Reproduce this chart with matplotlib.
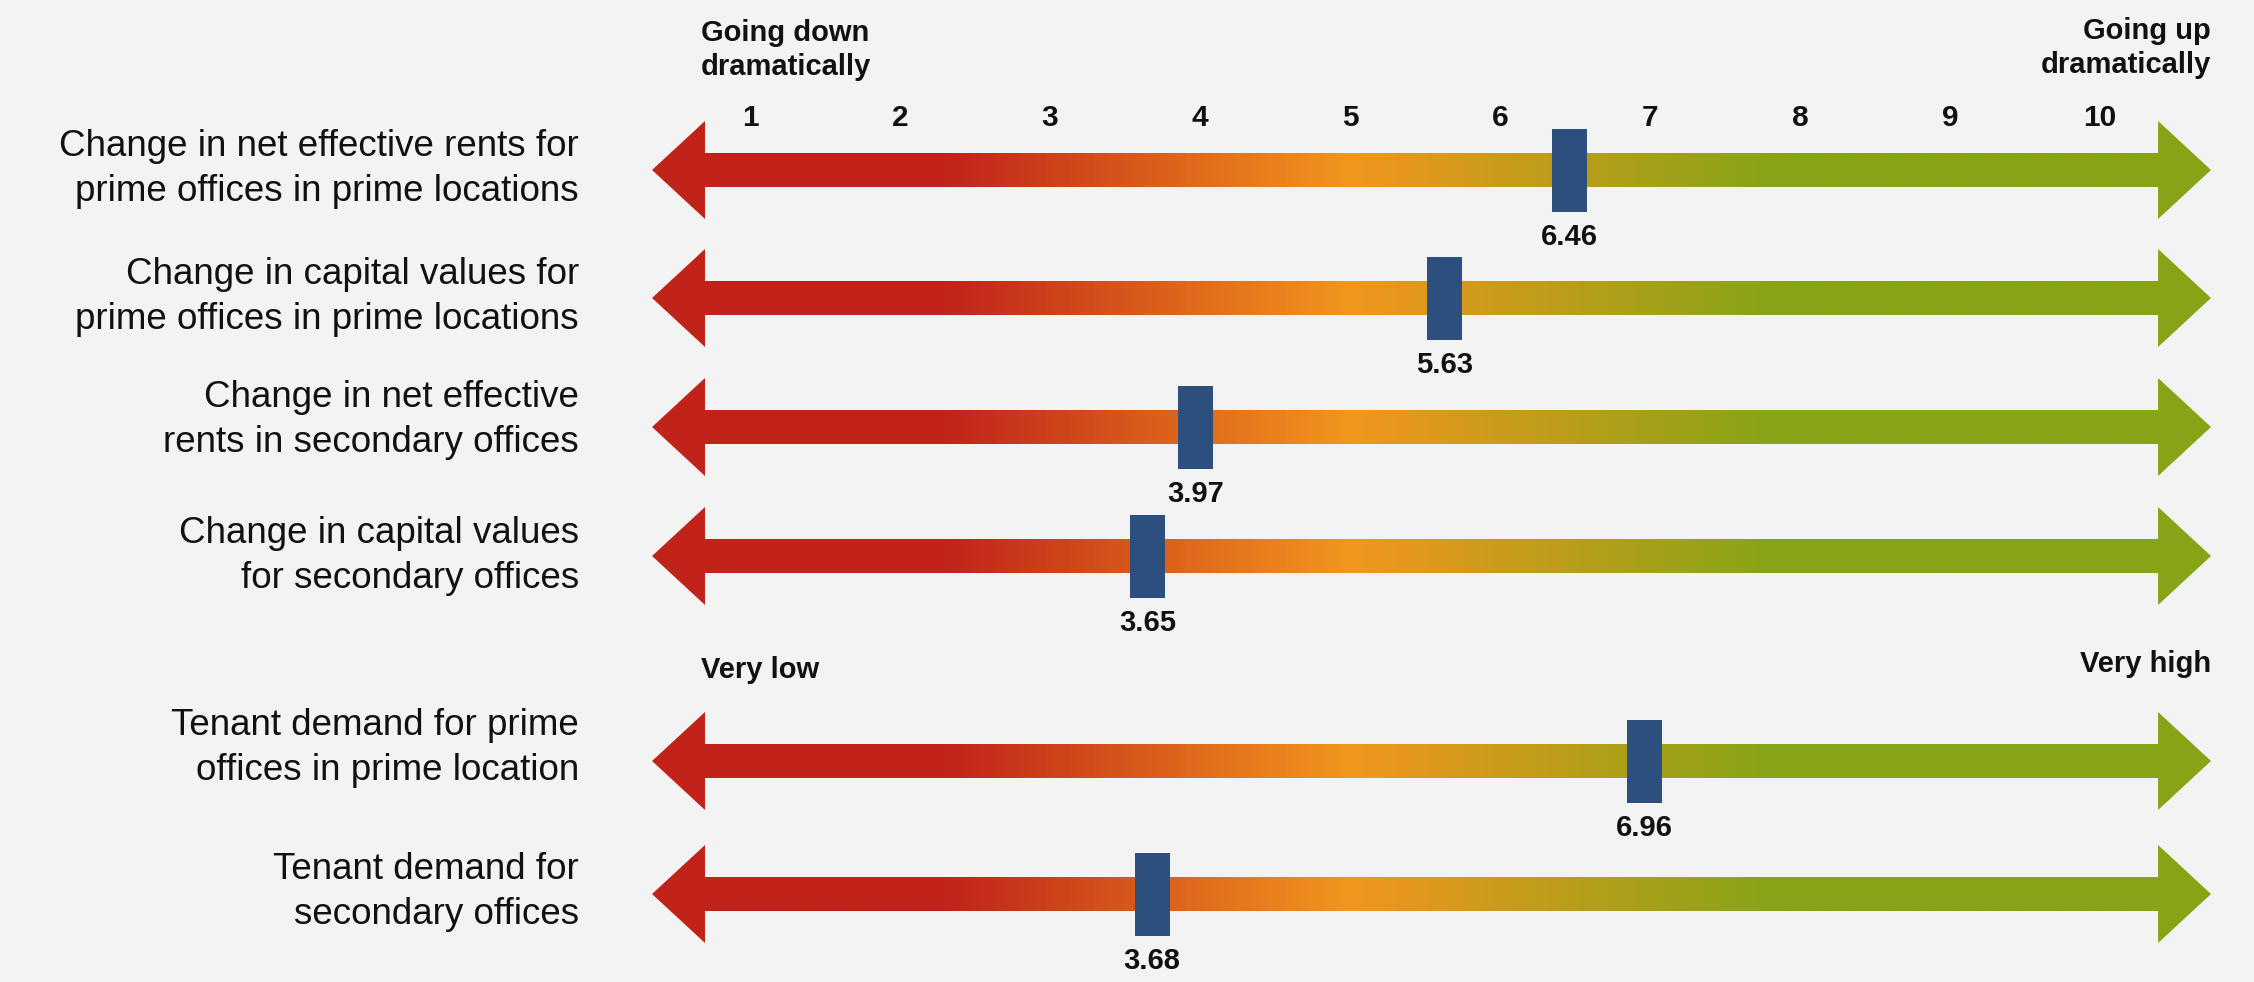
import numpy as np
import matplotlib
matplotlib.use("Agg")
import matplotlib.pyplot as plt
from matplotlib.colors import LinearSegmentedColormap
from matplotlib.patches import Polygon

# ---------------- data ----------------
categories = [
    "Change in net effective rents for\nprime offices in prime locations",
    "Change in capital values for\nprime offices in prime locations",
    "Change in net effective\nrents in secondary offices",
    "Change in capital values\nfor secondary offices",
    "Tenant demand for prime\noffices in prime location",
    "Tenant demand for\nsecondary offices",
]
scores = [6.46, 5.63, 3.97, 3.65, 6.96, 3.68]
scale_ticks = [1, 2, 3, 4, 5, 6, 7, 8, 9, 10]
top_left_label = "Going down\ndramatically"
top_right_label = "Going up\ndramatically"
demand_left_label = "Very low"
demand_right_label = "Very high"

# ---------------- layout (pixels on a 2254x982 canvas) ----------------
W, H = 2254, 982
ROW_Y = [170, 298, 427, 556, 761, 894]
LABEL_Y = [169, 297, 420, 556, 748, 892]
BG = "#f3f3f3"
MARKER_C = "#2c4f7e"
TXT = "#111111"
FONT = "Liberation Sans"

fig = plt.figure(figsize=(W / 100, H / 100), dpi=100, facecolor=BG)
ax = fig.add_axes([0, 0, 1, 1])
ax.set_facecolor(BG)
# value v sits at pixel 750 + (v-1)*150
x_left = 1 - 750 / 150
x_right = 1 + (W - 750) / 150
ax.axis("off")

px = 1 / 150.0  # one pixel in value units

cmap = LinearSegmentedColormap.from_list(
    "grad",
    [(0.0, "#c1231a"), ((2.3 - 0.3) / 10.5, "#c1241a"),
     ((5.0 - 0.3) / 10.5, "#f2961d"), ((7.8 - 0.3) / 10.5, "#87a417"),
     (1.0, "#87a417")])

tip_l, base_l = 0.347, 0.70
base_r, tip_r = 10.387, 10.74
shaft_h, head_h = 17, 49
grad = np.linspace(0, 1, 600).reshape(1, -1)

for yc in ROW_Y:
    pts = [(tip_l, yc), (base_l, yc - head_h), (base_l, yc - shaft_h),
           (base_r, yc - shaft_h), (base_r, yc - head_h), (tip_r, yc),
           (base_r, yc + head_h), (base_r, yc + shaft_h),
           (base_l, yc + shaft_h), (base_l, yc + head_h)]
    poly = Polygon(pts, closed=True, facecolor="none", edgecolor="none")
    ax.add_patch(poly)
    im = ax.imshow(grad, cmap=cmap, aspect="auto",
                   extent=(0.3, 10.8, yc + head_h + 2, yc - head_h - 2),
                   interpolation="bilinear", zorder=2)
    im.set_clip_path(poly)

ax.set_xlim(x_left, x_right)
ax.set_ylim(H, 0)

# markers
ax.bar(scores, height=83, bottom=[y - 41.5 for y in ROW_Y], width=35 * px,
       color=MARKER_C, zorder=3)
for v, yc in zip(scores, ROW_Y):
    ax.text(v, yc + 67, f"{v:.2f}", ha="center", va="center",
            fontsize=21, fontweight="bold", family=FONT,
            color=TXT, zorder=4)

# scale ticks
for t in scale_ticks:
    ax.text(t, 118, str(t), ha="center", va="center", fontsize=21.5,
            fontweight="bold", family=FONT, color=TXT)

# row labels
label_x = 1 + (579 - 750) / 150
for lab, ly in zip(categories, LABEL_Y):
    ax.text(label_x, ly, lab, ha="right", va="center", fontsize=26.5,
            family=FONT, color=TXT, linespacing=1.4,
            multialignment="right")

# end labels
hx_l = 1 + (701 - 750) / 150
hx_r = 1 + (2211 - 750) / 150
ax.text(hx_l, 50, top_left_label, ha="left", va="center", fontsize=21,
        fontweight="bold", family=FONT, color=TXT, linespacing=1.25)
ax.text(hx_r, 48, top_right_label, ha="right", va="center", fontsize=21,
        fontweight="bold", family=FONT, color=TXT, linespacing=1.25,
        multialignment="right")
ax.text(hx_l, 670, demand_left_label, ha="left", va="center", fontsize=21,
        fontweight="bold", family=FONT, color=TXT)
ax.text(hx_r, 664, demand_right_label, ha="right", va="center", fontsize=21,
        fontweight="bold", family=FONT, color=TXT)

fig.savefig("out.png", dpi=100, facecolor=BG)
